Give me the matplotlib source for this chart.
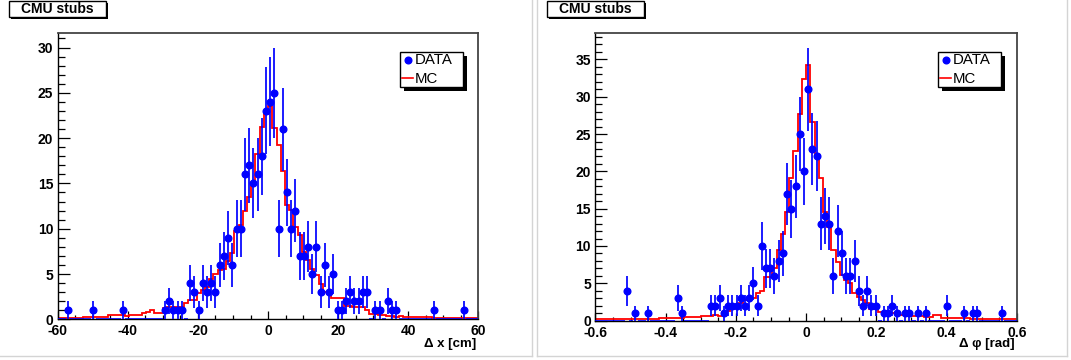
import numpy as np
import matplotlib
matplotlib.use("Agg")
import matplotlib.pyplot as plt
from matplotlib.patches import Rectangle
from matplotlib.lines import Line2D
from matplotlib.ticker import MultipleLocator, FuncFormatter

plt.rcParams['font.family'] = ['Liberation Sans', 'DejaVu Sans']
plt.rcParams['axes.unicode_minus'] = False

# ---------------- data ----------------
title_text = "CMU stubs"
legend_labels = ["DATA", "MC"]

dx_range = (-60.0, 60.0)
dx_nbins = 100
dx_label = "Δ x [cm]"
dx_ymax = 31.57
dx_data = [0, 0, 1, 0, 0, 0, 0, 0, 1, 0,
           0, 0, 0, 0, 0, 1, 0, 0, 0, 0,
           0, 0, 0, 0, 0, 1, 2, 1, 1, 1,
           0, 4, 3, 1, 4, 3, 4, 3, 6, 7,
           9, 6, 10, 10, 16, 17, 15, 16, 18, 23,
           24, 25, 10, 21, 14, 10, 12, 7, 7, 8,
           5, 8, 3, 6, 3, 5, 1, 1, 2, 3,
           2, 2, 3, 3, 0, 1, 1, 0, 2, 1,
           1, 0, 0, 0, 0, 0, 0, 0, 0, 1,
           0, 0, 0, 0, 0, 0, 1, 0, 0, 0]
dx_mc = [0.1, 0.1, 0.1, 0.1, 0.15, 0.15, 0.2, 0.25, 0.2, 0.3,
         0.25, 0.3, 0.5, 0.5, 0.45, 0.5, 0.4, 0.45, 0.5, 0.5,
         0.75, 0.8, 1.05, 0.75, 0.7, 1.2, 1.4, 1.4, 1.35, 1.4,
         1.8, 2.1, 2.1, 2.9, 3.2, 3.6, 4.4, 5.0, 5.4, 5.5,
         6.4, 7.3, 9.7, 10.4, 12.0, 13.5, 15.0, 18.3, 21.2, 22.7,
         23.6, 21.1, 19.2, 16.4, 12.6, 12.1, 10.2, 9.3, 7.4, 6.6,
         5.6, 4.9, 3.9, 3.0, 2.8, 2.4, 2.3, 2.3, 1.5, 1.5,
         1.4, 1.4, 1.4, 1.0, 0.6, 0.6, 0.45, 0.45, 0.35, 0.35,
         0.3, 0.35, 0.25, 0.25, 0.3, 0.2, 0.2, 0.2, 0.2, 0.15,
         0.15, 0.15, 0.1, 0.15, 0.1, 0.1, 0.1, 0.15, 0.1, 0.1]

dphi_range = (-0.6, 0.6)
dphi_nbins = 100
dphi_label = "Δ φ [rad]"
dphi_ymax = 38.5
dphi_data = [0, 0, 0, 0, 0, 0, 0, 4, 0, 1,
             0, 0, 1, 0, 0, 0, 0, 0, 0, 3,
             1, 0, 0, 0, 0, 0, 0, 2, 2, 3,
             1, 2, 2, 2, 3, 2, 3, 5, 2, 10,
             7, 7, 6, 8, 9, 17, 15, 18, 25, 20,
             31, 23, 22, 13, 14, 13, 6, 12, 9, 6,
             6, 8, 4, 2, 4, 2, 2, 0, 1, 1,
             2, 1, 0, 1, 1, 0, 1, 0, 1, 0,
             0, 0, 0, 2, 0, 0, 0, 1, 0, 1,
             1, 0, 0, 0, 0, 0, 1, 0, 0, 0]
dphi_mc = [0.15, 0.15, 0.15, 0.15, 0.15, 0.15, 0.15, 0.15, 0.15, 0.2,
           0.2, 0.2, 0.2, 0.2, 0.2, 0.3, 0.3, 0.3, 0.4, 0.4,
           0.4, 0.5, 0.5, 0.5, 0.5, 0.6, 0.6, 0.6, 0.7, 0.6,
           1.2, 1.3, 1.6, 1.8, 2.3, 2.8, 3.0, 3.0, 3.7, 4.0,
           5.8, 5.9, 7.1, 9.4, 11.6, 14.6, 19.1, 22.7, 27.7, 32.4,
           34.2, 26.6, 22.2, 19.1, 14.6, 12.6, 9.4, 7.9, 6.1, 5.4,
           5.0, 3.7, 3.2, 2.8, 2.3, 1.6, 1.6, 1.2, 1.2, 1.0,
           1.0, 1.0, 0.7, 0.7, 0.7, 0.6, 0.6, 0.6, 0.5, 0.5,
           0.7, 0.7, 0.4, 0.4, 0.4, 0.35, 0.35, 0.35, 0.35, 0.25,
           0.25, 0.25, 0.25, 0.25, 0.25, 0.25, 0.25, 0.25, 0.25, 0.25]

BLUE = "#0000ff"
RED = "#ff0000"

W, H = 1071, 360
fig = plt.figure(figsize=(W / 100, H / 100), dpi=100)
fig.patch.set_facecolor("white")


def fx(x):
    return x / W


def fy(y):
    return 1 - y / H


def fmt(v, pos):
    v = round(v, 3) + 0.0
    return format(v, 'g')


def panel(rect, rng, nbins, data, mc, ymax, xmaj, xmin, ymaj, ymin, xlabel,
          x_off, xlabel_right):
    x0, x1, ytop, ybot = rect
    ax = fig.add_axes([fx(x0), fy(ybot), (x1 - x0) / W, (ybot - ytop) / H])
    edges = np.linspace(rng[0], rng[1], nbins + 1)
    centers = 0.5 * (edges[:-1] + edges[1:])
    hw = 0.5 * (edges[1] - edges[0])
    d = np.asarray(data, dtype=float)
    m = np.asarray(mc, dtype=float)

    ax.stairs(m, edges, color=RED, lw=1.3, baseline=0, zorder=2)
    nz = d > 0
    ax.errorbar(centers[~nz], d[~nz], xerr=hw, fmt='none', ecolor=BLUE,
                elinewidth=1.2, capsize=0, zorder=3)
    ax.errorbar(centers[nz], d[nz], yerr=np.sqrt(d[nz]), xerr=hw, fmt='o',
                color=BLUE, ms=4.8, mec=BLUE, elinewidth=1.25, capsize=0,
                zorder=4)

    ax.set_xlim(rng)
    ax.set_ylim(0, ymax)
    ax.xaxis.set_major_locator(MultipleLocator(xmaj))
    ax.xaxis.set_minor_locator(MultipleLocator(xmin))
    ax.yaxis.set_major_locator(MultipleLocator(ymaj))
    ax.yaxis.set_minor_locator(MultipleLocator(ymin))
    ax.xaxis.set_major_formatter(FuncFormatter(fmt))
    ax.yaxis.set_major_formatter(FuncFormatter(fmt))
    ax.tick_params(axis='x', which='major', direction='in', length=6,
                   width=0.9, pad=3.6, labelsize=10)
    ax.tick_params(axis='x', which='minor', direction='in', length=3,
                   width=0.9)
    ax.tick_params(axis='y', which='major', direction='in', length=8.4,
                   width=0.9, pad=3.2, labelsize=10)
    ax.tick_params(axis='y', which='minor', direction='in', length=4.8,
                   width=0.9)
    for lab in ax.get_xticklabels() + ax.get_yticklabels():
        lab.set_fontweight('bold')
    for s in ['left', 'bottom']:
        ax.spines[s].set_color('black')
        ax.spines[s].set_linewidth(1.0)
    for s in ['top', 'right']:
        ax.spines[s].set_color('#444444')
        ax.spines[s].set_linewidth(1.3)

    fig.text(fx(xlabel_right), fy(344), xlabel, ha='right', va='center',
             fontsize=9.5, fontweight='bold')

    # title box
    tb = (9.3 + x_off, 1.0, 106.0 + x_off, 17.3)
    fig.add_artist(Rectangle((fx(tb[0] + 2), fy(tb[3] + 2)),
                             (tb[2] - tb[0]) / W, (tb[3] - tb[1]) / H,
                             transform=fig.transFigure, facecolor='black',
                             edgecolor='black', lw=0))
    fig.add_artist(Rectangle((fx(tb[0]), fy(tb[3])),
                             (tb[2] - tb[0]) / W, (tb[3] - tb[1]) / H,
                             transform=fig.transFigure, facecolor='white',
                             edgecolor='black', lw=1.0))
    fig.text(fx(0.5 * (tb[0] + tb[2])), fy(0.5 * (tb[1] + tb[3]) + 0.3),
             title_text, ha='center', va='center', fontsize=10,
             fontweight='bold')

    # legend
    lx0, lx1, ly0, ly1 = 400 + x_off, 463.3 + x_off, 51.7, 87.3
    fig.add_artist(Rectangle((fx(lx0 + 4), fy(ly1 + 4)),
                             (lx1 - lx0) / W, (ly1 - ly0) / H,
                             transform=fig.transFigure, facecolor='black',
                             edgecolor='black', lw=0, zorder=5))
    fig.add_artist(Rectangle((fx(lx0), fy(ly1)),
                             (lx1 - lx0) / W, (ly1 - ly0) / H,
                             transform=fig.transFigure, facecolor='white',
                             edgecolor='black', lw=1.0, zorder=6))
    fig.add_artist(Line2D([fx(408.3 + x_off)], [fy(60)], marker='o', ms=4.8,
                          color=BLUE, transform=fig.transFigure, zorder=7))
    fig.add_artist(Line2D([fx(401.7 + x_off), fx(413.3 + x_off)],
                          [fy(78.3), fy(78.3)], color=RED, lw=1.2,
                          transform=fig.transFigure, zorder=7))
    fig.text(fx(414.3 + x_off), fy(60.5), legend_labels[0], ha='left',
             va='center', fontsize=10.8, zorder=8)
    fig.text(fx(414.3 + x_off), fy(78.8), legend_labels[1], ha='left',
             va='center', fontsize=10.8, zorder=8)
    return ax


panel((57.7, 478.5, 33.3, 319.3), dx_range, dx_nbins, dx_data, dx_mc,
      dx_ymax, 20, 5, 5, 1, dx_label, 0, 476)
panel((595.4, 1016.8, 33.3, 320.6), dphi_range, dphi_nbins, dphi_data,
      dphi_mc, dphi_ymax, 0.2, 0.05, 5, 1, dphi_label, 538, 1015)

# pad borders
GR = '#d4d4d4'
for xs, ys in [([532, 532], [0, 356]), ([0, 532], [356, 356]),
               ([537, 537], [0, 356]), ([537, 1067], [356, 356]),
               ([1067, 1067], [0, 356])]:
    fig.add_artist(Line2D([fx(v) for v in xs], [fy(v) for v in ys],
                          color=GR, lw=1.0, transform=fig.transFigure))

fig.savefig("out.png", dpi=100, facecolor='white')
